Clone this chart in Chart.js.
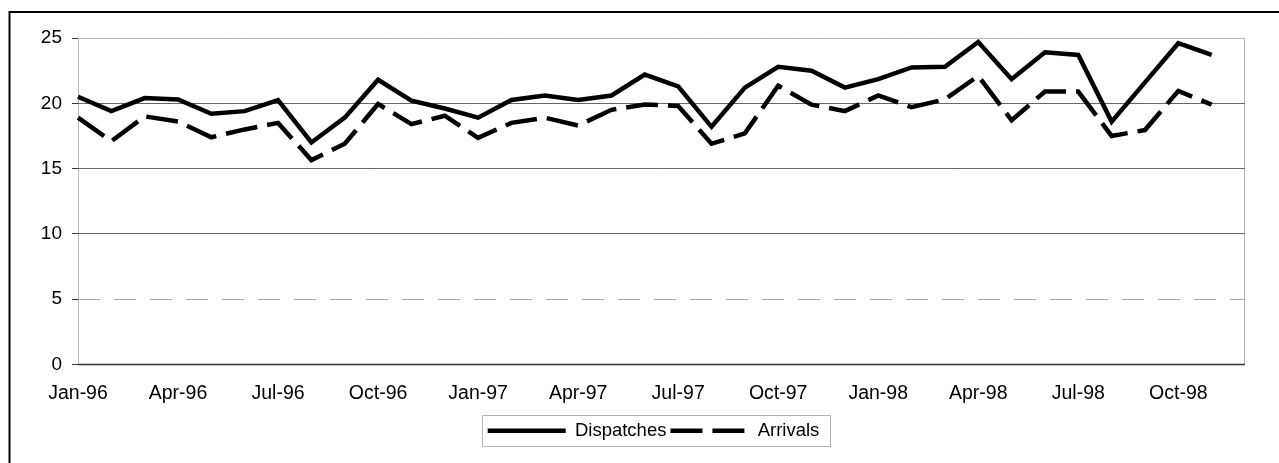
<!DOCTYPE html>
<html>
<head>
<meta charset="utf-8">
<script src="https://cdn.jsdelivr.net/npm/chart.js@4/dist/chart.umd.min.js"></script>
<style>
  html, body { margin: 0; padding: 0; background: #fff; }
  #wrap { position: relative; width: 1279px; height: 463px; }
  canvas { display: block; }
</style>
</head>
<body>
<div id="wrap"><canvas id="c" width="1279" height="463"></canvas></div>
<script>
const months = [
  'Jan-96','Feb-96','Mar-96','Apr-96','May-96','Jun-96','Jul-96','Aug-96','Sep-96','Oct-96','Nov-96','Dec-96',
  'Jan-97','Feb-97','Mar-97','Apr-97','May-97','Jun-97','Jul-97','Aug-97','Sep-97','Oct-97','Nov-97','Dec-97',
  'Jan-98','Feb-98','Mar-98','Apr-98','May-98','Jun-98','Jul-98','Aug-98','Sep-98','Oct-98','Nov-98','Dec-98'
];
const dispatches = [
  20.5, 19.4, 20.4, 20.3, 19.2, 19.4, 20.25, 17.0, 18.9, 21.8, 20.2, 19.6,
  18.9, 20.25, 20.6, 20.25, 20.6, 22.2, 21.3, 18.2, 21.2, 22.8, 22.5, 21.2,
  21.85, 22.75, 22.8, 24.7, 21.85, 23.9, 23.7, 18.6, 21.6, 24.6, 23.7, null
];
const arrivals = [
  18.9, 17.1, 19.0, 18.6, 17.4, 18.0, 18.5, 15.65, 16.9, 19.95, 18.4, 19.05,
  17.35, 18.5, 18.9, 18.3, 19.5, 19.9, 19.8, 16.9, 17.7, 21.35, 19.9, 19.4,
  20.6, 19.7, 20.3, 22.1, 18.7, 20.9, 20.9, 17.5, 17.95, 20.95, 19.9, null
];
const yTicks = [0, 5, 10, 15, 20, 25];

const FONT = "'Liberation Sans', Arial, Helvetica, sans-serif";

const framePlugin = {
  id: 'frame',
  afterLayout(chart) {
    const lg = chart.legend;
    if (lg) { lg.left -= 8; lg.right -= 8; }
  },
  beforeDatasetsDraw(chart) {
    const { ctx, chartArea: a } = chart;
    ctx.save();
    ctx.strokeStyle = '#777';
    ctx.lineWidth = 1;
    ctx.setLineDash([1, 1]);
    ctx.beginPath();
    ctx.moveTo(a.left + 0.5, a.bottom);
    ctx.lineTo(a.left + 0.5, a.top + 0.5);
    ctx.lineTo(a.right - 0.5, a.top + 0.5);
    ctx.lineTo(a.right - 0.5, a.bottom);
    ctx.stroke();
    ctx.setLineDash([]);
    ctx.strokeStyle = '#333';
    ctx.lineWidth = 1.5;
    ctx.beginPath();
    ctx.moveTo(a.left, a.bottom);
    ctx.lineTo(a.right, a.bottom);
    ctx.stroke();
    ctx.restore();
  },
  afterDraw(chart) {
    const { ctx } = chart;
    ctx.save();
    ctx.strokeStyle = '#000';
    ctx.lineWidth = 2;
    ctx.beginPath();
    ctx.moveTo(9.5, 463);
    ctx.lineTo(9.5, 12);
    ctx.lineTo(1279, 12);
    ctx.stroke();
    const hb = chart.legend && chart.legend.legendHitBoxes;
    if (hb && hb.length) {
      let l = Infinity, r = -Infinity, t = Infinity, b = -Infinity;
      hb.forEach(h => {
        l = Math.min(l, h.left); r = Math.max(r, h.left + h.width);
        t = Math.min(t, h.top); b = Math.max(b, h.top + h.height);
      });
      const cy = (t + b) / 2;
      ctx.strokeStyle = '#666';
      ctx.lineWidth = 1;
      ctx.setLineDash([1, 1]);
      ctx.strokeRect(Math.round(l - 6) + 0.5, Math.round(cy - 15.5) + 0.5, Math.round(r - l + 16), 31);
    }
    ctx.restore();
  }
};

new Chart(document.getElementById('c'), {
  type: 'line',
  data: {
    labels: months,
    datasets: [
      {
        label: 'Dispatches',
        data: dispatches,
        borderColor: '#000',
        backgroundColor: '#000',
        borderWidth: 4.5,
        pointRadius: 0,
        tension: 0,
        fill: false
      },
      {
        label: 'Arrivals',
        data: arrivals,
        borderColor: '#000',
        backgroundColor: '#000',
        borderWidth: 4.5,
        borderDash: [32, 10],
        pointRadius: 0,
        tension: 0,
        fill: false
      }
    ]
  },
  options: {
    responsive: false,
    animation: false,
    devicePixelRatio: 1,
    layout: { padding: { left: 0, right: 34, top: 38, bottom: 13 } },
    plugins: {
      tooltip: { enabled: false },
      legend: {
        position: 'bottom',
        fullSize: false,
        labels: {
          color: '#000',
          font: { family: FONT, size: 18.5 },
          usePointStyle: true,
          pointStyle: 'line',
          pointStyleWidth: 78,
          padding: 4,
          generateLabels(chart) {
            const items = Chart.defaults.plugins.legend.labels.generateLabels(chart);
            items.forEach(it => {
              const ds = chart.data.datasets[it.datasetIndex];
              it.lineDash = ds.borderDash || [];
              it.lineWidth = ds.borderWidth;
              it.strokeStyle = ds.borderColor;
              it.fillStyle = ds.borderColor;
            });
            return items;
          }
        }
      }
    },
    scales: {
      x: {
        type: 'category',
        offset: false,
        grid: { display: false, drawTicks: false },
        border: { display: false },
        ticks: {
          autoSkip: false,
          maxRotation: 0,
          minRotation: 0,
          padding: 17,
          color: '#000',
          font: { family: FONT, size: 19.5 },
          callback: function (v, i) { return i % 3 === 0 ? months[i] : ''; }
        },
        afterFit(scale) { scale.height = 53; }
      },
      y: {
        min: 0,
        max: 25,
        afterBuildTicks(scale) { scale.ticks = yTicks.map(v => ({ value: v })); },
        grid: {
          drawTicks: true,
          tickLength: 6,
          tickColor: '#333',
          color: (c) => {
            const v = c.tick ? c.tick.value : null;
            if (v === 0 || v === 25) return 'rgba(0,0,0,0)';
            if (v === 5) return '#aaa';
            return '#666';
          },
          lineWidth: 1
        },
        border: {
          display: false,
          dash: (c) => (c.tick && c.tick.value === 5 ? [22, 14] : [])
        },
        ticks: {
          padding: 10,
          color: '#000',
          font: { family: FONT, size: 19 }
        },
        afterFit(scale) { scale.width = 78; }
      }
    }
  },
  plugins: [framePlugin]
});
</script>
</body>
</html>
